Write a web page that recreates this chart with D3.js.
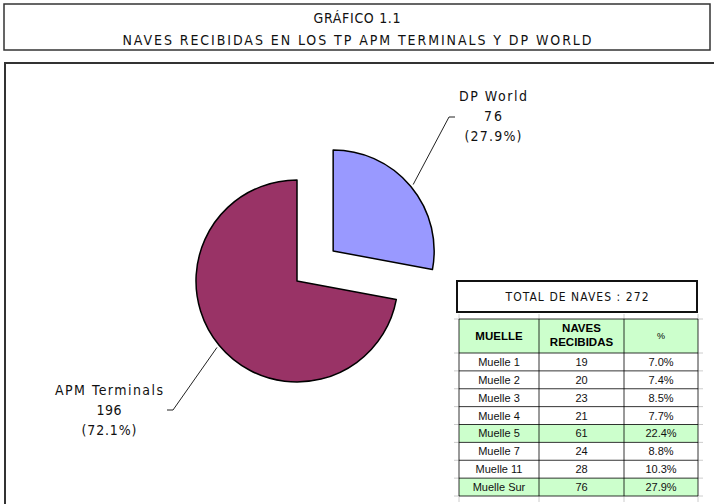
<!DOCTYPE html>
<html><head><meta charset="utf-8">
<script src="https://cdn.jsdelivr.net/npm/d3@7"></script>
<style>body{margin:0;background:#fff}svg{display:block}</style>
</head><body>
<svg id="c" width="714" height="504"></svg>
<script>
const titleLines = ["GRÁFICO 1.1", "NAVES RECIBIDAS EN LOS TP APM TERMINALS Y DP WORLD"];
const pieNames = ["DP World", "APM Terminals"];
const pieValues = [76, 196];
const piePercents = ["27.9%", "72.1%"];
const pieColors = ["#9999ff", "#993366"];
const totalLabel = "TOTAL DE NAVES :  272";
const tableHeaders = ["MUELLE", "NAVES RECIBIDAS", "%"];
const muelles = ["Muelle 1","Muelle 2","Muelle 3","Muelle 4","Muelle 5","Muelle 7","Muelle 11","Muelle Sur"];
const naves = [19,20,23,21,61,24,28,76];
const pct = ["7.0%","7.4%","8.5%","7.7%","22.4%","8.8%","10.3%","27.9%"];
const highlighted = ["Muelle 5","Muelle Sur"];

const svg = d3.select("#c");
const labelFont = "'DejaVu Sans Condensed', 'DejaVu Sans', Verdana, sans-serif";
const tableFont = "'Liberation Sans', Arial, sans-serif";

// title box
svg.append("rect").attr("x",4).attr("y",4).attr("width",706).attr("height",46)
  .attr("fill","none").attr("stroke","#333").attr("stroke-width",1.5);
const tl = [{t:titleLines[0], y:22.5, w:87},{t:titleLines[1], y:44.5, w:469}];
tl.forEach(d=>{
  svg.append("text").attr("x",357).attr("y",d.y).attr("text-anchor","middle")
    .attr("font-family",labelFont).attr("font-size",14).attr("fill","#111")
    .attr("textLength",d.w).attr("lengthAdjust","spacing").text(d.t);
});
// chart box
svg.append("rect").attr("x",5).attr("y",63).attr("width",740).attr("height",480)
  .attr("fill","none").attr("stroke","#333").attr("stroke-width",2);

// pie
const cx = 297, cy = 281, r = 101, explode = 47;
const pie = d3.pie().sort(null).value(d=>d)(pieValues);
const arc = d3.arc().innerRadius(0).outerRadius(r);
const g = svg.append("g").attr("transform",`translate(${cx},${cy})`);
pie.forEach((p,i)=>{
  const mid = (p.startAngle+p.endAngle)/2;
  const off = i===0 ? explode : 0;
  const ox = Math.sin(mid)*off, oy = -Math.cos(mid)*off;
  g.append("path").attr("d",arc(p)).attr("transform",`translate(${ox},${oy})`)
    .attr("fill",pieColors[i]).attr("stroke","#000").attr("stroke-width",1.5)
    .attr("stroke-linejoin","round");
  // leader line
  const sx = ox + Math.sin(mid)*(r+3), sy = oy - Math.cos(mid)*(r+3);
  const ends = i===0 ? {ex:449-cx, ey:117-cy, hx:455-cx, lx:493, ly:101}
                     : {ex:173-cx, ey:410-cy, hx:167-cx, lx:109, ly:395};
  g.append("path").attr("d",`M${sx},${sy}L${ends.ex},${ends.ey}L${ends.hx},${ends.ey}`)
    .attr("fill","none").attr("stroke","#222").attr("stroke-width",1);
  const lines = [pieNames[i], String(pieValues[i]), "("+piePercents[i]+")"];
  const widths = i===0 ? [68,18,57] : [108,25,55];
  lines.forEach((t,k)=>{
    svg.append("text").attr("x",ends.lx).attr("y",ends.ly+k*20).attr("text-anchor","middle")
      .attr("font-family",labelFont).attr("font-size",14).attr("fill","#111")
      .attr("textLength",widths[k]).attr("lengthAdjust","spacing").text(t);
  });
});

// total box
svg.append("rect").attr("x",457).attr("y",281).attr("width",240).attr("height",31)
  .attr("fill","#fff").attr("stroke","#111").attr("stroke-width",2);
svg.append("text").attr("x",577).attr("y",301).attr("text-anchor","middle")
  .attr("font-family",labelFont).attr("font-size",12).attr("fill","#111")
  .attr("textLength",143).attr("lengthAdjust","spacing").text(totalLabel);

// table
const colX = [459, 539, 624, 698];
const headTop = 319, headBot = 353;
const rowY = d3.scaleLinear().domain([0, muelles.length]).range([headBot, 496]);
const tg = svg.append("g");
// gray excel grid stubs
const hLines = [headTop, headBot].concat(muelles.map((m,i)=>rowY(i+1)));
hLines.forEach(y=>{
  tg.append("line").attr("x1",colX[0]-5).attr("x2",colX[0]).attr("y1",y).attr("y2",y).attr("stroke","#ccc");
  tg.append("line").attr("x1",colX[3]).attr("x2",colX[3]+5).attr("y1",y).attr("y2",y).attr("stroke","#ccc");
});
colX.forEach(x=>{
  tg.append("line").attr("x1",x).attr("x2",x).attr("y1",headTop-5).attr("y2",headTop).attr("stroke","#ccc");
  tg.append("line").attr("x1",x).attr("x2",x).attr("y1",rowY(muelles.length)).attr("y2",rowY(muelles.length)+6).attr("stroke","#ccc");
});
// header
tg.append("rect").attr("x",colX[0]).attr("y",headTop).attr("width",colX[3]-colX[0]).attr("height",headBot-headTop)
  .attr("fill","#ccffcc");
muelles.forEach((m,i)=>{
  tg.append("rect").attr("x",colX[0]).attr("y",rowY(i)).attr("width",colX[3]-colX[0]).attr("height",rowY(i+1)-rowY(i))
    .attr("fill", highlighted.includes(m) ? "#ccffcc" : "#fff");
});
// grid lines
hLines.forEach(y=>{
  tg.append("line").attr("x1",colX[0]).attr("x2",colX[3]).attr("y1",y).attr("y2",y).attr("stroke","#000").attr("stroke-width",0.8);
});
colX.forEach(x=>{
  tg.append("line").attr("x1",x).attr("x2",x).attr("y1",headTop).attr("y2",rowY(muelles.length)).attr("stroke","#000").attr("stroke-width",0.8);
});
const cc = [0,1,2].map(j=>(colX[j]+colX[j+1])/2);
// header text
tg.append("text").attr("x",cc[0]).attr("y",340).attr("text-anchor","middle")
  .attr("font-family",tableFont).attr("font-size",11.5).attr("font-weight","bold").text(tableHeaders[0]);
const nh = tableHeaders[1].split(" ");
nh.forEach((t,k)=>{
  tg.append("text").attr("x",cc[1]).attr("y",332+k*14).attr("text-anchor","middle")
    .attr("font-family",tableFont).attr("font-size",11.5).attr("font-weight","bold").text(t);
});
tg.append("text").attr("x",cc[2]).attr("y",339).attr("text-anchor","middle")
  .attr("font-family",tableFont).attr("font-size",9).text(tableHeaders[2]);
// rows
muelles.forEach((m,i)=>{
  const y = (rowY(i)+rowY(i+1))/2 + 4;
  [m, String(naves[i]), pct[i]].forEach((t,j)=>{
    tg.append("text").attr("x",cc[j]).attr("y",y).attr("text-anchor","middle")
      .attr("font-family",tableFont).attr("font-size",11).attr("fill","#111").text(t);
  });
});
</script>
</body></html>
